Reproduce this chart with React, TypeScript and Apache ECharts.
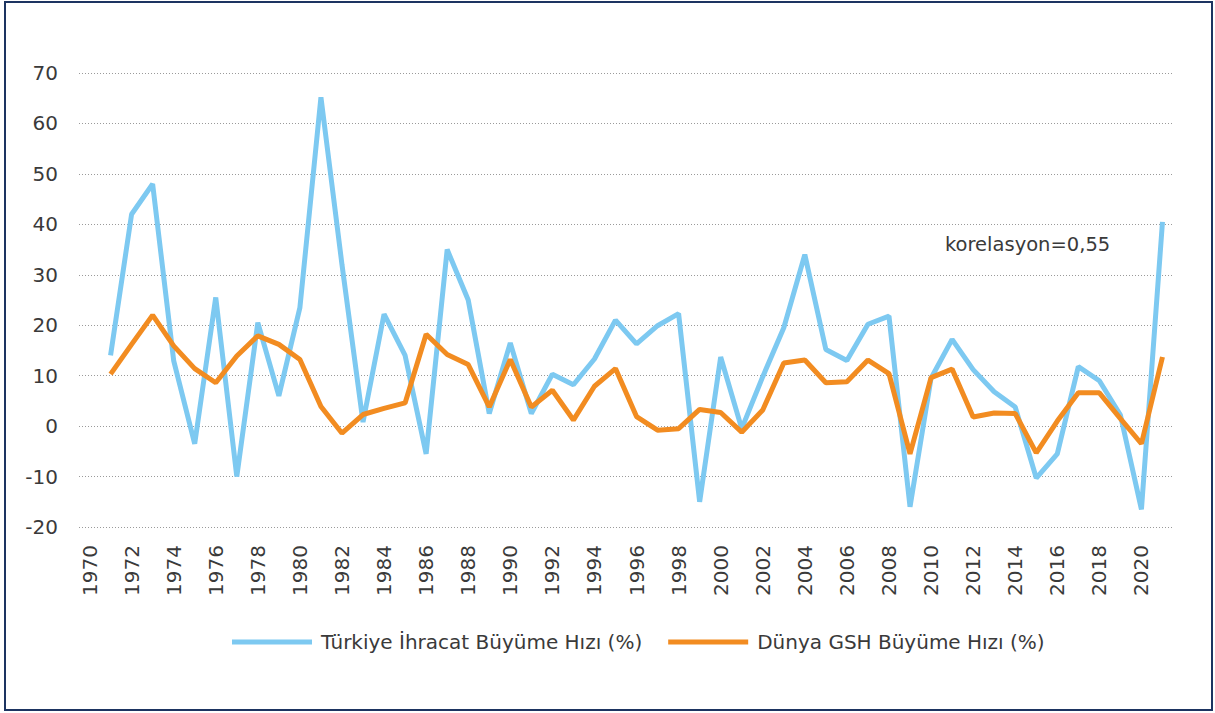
import React, { useEffect, useRef } from "react";
import * as echarts from "echarts";

const years: string[] = [];
for (let y = 1970; y <= 2021; y++) years.push(String(y));

const turkiyeIhracat: (number | null)[] = [
  null, 14, 42, 48, 13, -3.5, 25.5, -10, 20.5, 6, 23.5,
  65.2, 32, 0.8, 22.2, 14, -5.5, 35, 25, 2.5, 16.5,
  2.5, 10.3, 8.2, 13.3, 21, 16.3, 19.9, 22.3, -15, 13.7,
  -0.5, 9.8, 19.5, 34, 15.2, 13, 20.2, 21.8, -16, 9.5,
  17.2, 11.2, 6.8, 3.8, -10.3, -5.5, 11.8, 9, 2.2, -16.5,
  40.5,
];

const dunyaGSH: (number | null)[] = [
  null, 10.3, 16.2, 22, 15.9, 11.4, 8.6, 13.9, 17.9, 16.2, 13.2,
  3.9, -1.4, 2.3, 3.5, 4.6, 18.2, 14.2, 12.2, 3.8, 13.2,
  3.8, 7.1, 1.2, 7.9, 11.4, 1.9, -0.8, -0.5, 3.3, 2.7,
  -1.2, 3.2, 12.5, 13.1, 8.6, 8.8, 13.1, 10.4, -5.5, 9.6,
  11.3, 1.8, 2.6, 2.5, -5.3, 1, 6.6, 6.6, 1.5, -3.5,
  13.7,
];

const seriesNames = ["Türkiye İhracat Büyüme Hızı (%)", "Dünya GSH Büyüme Hızı (%)"];
const annotation = "korelasyon=0,55";

const FONT = "'DejaVu Sans', sans-serif";
const TEXT = "#3a3a3a";

export default function App() {
  const ref = useRef<HTMLDivElement>(null);

  useEffect(() => {
    if (!ref.current) return;
    const chart = echarts.init(ref.current, null, { renderer: "svg" });
    chart.setOption({
      animation: false,
      backgroundColor: "#ffffff",
      textStyle: { fontFamily: FONT },
      grid: { left: 79, right: 42, top: 73, bottom: 186, containLabel: false },
      legend: {
        left: 227,
        top: 627,
        itemWidth: 80,
        itemHeight: 5,
        itemGap: 26,
        icon: "rect",
        textStyle: { fontFamily: FONT, fontSize: 20, color: TEXT, padding: [0, 0, 0, 4] },
        data: seriesNames,
      },
      xAxis: {
        type: "category",
        data: years,
        boundaryGap: true,
        axisLine: { show: false },
        axisTick: { show: false },
        axisLabel: {
          interval: 1,
          rotate: 90,
          margin: 18,
          fontSize: 20,
          color: TEXT,
          fontFamily: FONT,
        },
        splitLine: { show: false },
      },
      yAxis: {
        type: "value",
        min: -20,
        max: 70,
        interval: 10,
        axisLine: { show: false },
        axisTick: { show: false },
        axisLabel: { fontSize: 20, color: TEXT, margin: 21, fontFamily: FONT },
        splitLine: { lineStyle: { color: "#9a9a9a", width: 1, type: [1, 2] } },
      },
      graphic: [
        {
          type: "text",
          left: 945,
          top: 234,
          style: { text: annotation, fontSize: 19.5, fill: TEXT, fontFamily: FONT },
        },
      ],
      series: [
        {
          name: seriesNames[0],
          type: "line",
          data: turkiyeIhracat,
          symbol: "none",
          lineStyle: { color: "#7DC9F1", width: 5 },
          itemStyle: { color: "#7DC9F1" },
          z: 2,
        },
        {
          name: seriesNames[1],
          type: "line",
          data: dunyaGSH,
          symbol: "none",
          lineStyle: { color: "#F28C21", width: 5 },
          itemStyle: { color: "#F28C21" },
          z: 3,
        },
      ],
    });
    return () => chart.dispose();
  }, []);

  return (
    <div style={{ position: "fixed", left: 0, top: 0, width: 1215, height: 713, background: "#fff" }}>
      <div ref={ref} style={{ position: "absolute", left: 0, top: 0, width: 1215, height: 713 }} />
      <div
        style={{
          position: "absolute",
          left: 4,
          top: 1,
          width: 1209,
          height: 710,
          boxSizing: "border-box",
          border: "2px solid #1d3461",
          pointerEvents: "none",
        }}
      />
    </div>
  );
}
